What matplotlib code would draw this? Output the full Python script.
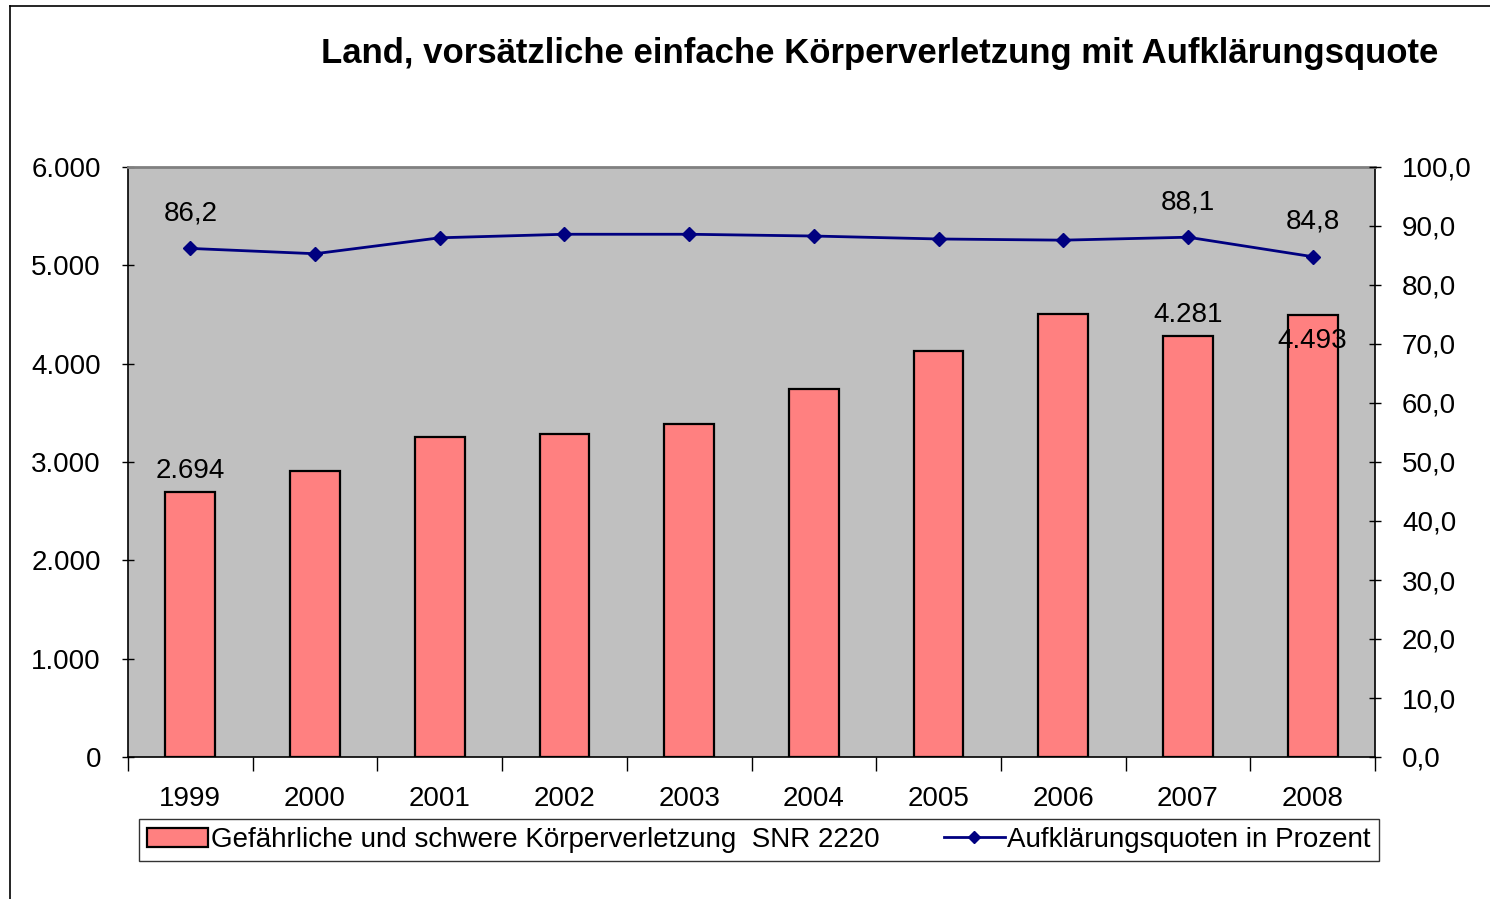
import matplotlib
matplotlib.use('Agg')
import matplotlib.pyplot as plt
import numpy as np
from matplotlib.lines import Line2D
from matplotlib.patches import Rectangle

years = ['1999', '2000', '2001', '2002', '2003', '2004', '2005', '2006', '2007', '2008']
faelle = [2694, 2910, 3254, 3285, 3387, 3742, 4129, 4505, 4281, 4493]
quote = [86.2, 85.3, 88.0, 88.6, 88.6, 88.3, 87.8, 87.6, 88.1, 84.8]

bar_label = {0: '2.694', 8: '4.281', 9: '4.493'}
quote_label = {0: '86,2', 8: '88,1', 9: '84,8'}

plt.rcParams['font.family'] = ['Liberation Sans', 'DejaVu Sans']
FS = 20

fig = plt.figure(figsize=(14.9, 8.99), dpi=100)

# outer frame (top and left edge only, like the original screenshot)
fig.add_artist(Line2D([10 / 1490, 1.0], [1 - 6 / 899] * 2, color='black', lw=1.2))
fig.add_artist(Line2D([10 / 1490] * 2, [0, 1 - 6 / 899], color='black', lw=1.2))

ax = fig.add_axes([128 / 1490, 1 - 757 / 899, 1247 / 1490, 590 / 899])
ax.set_facecolor('#c0c0c0')
x = np.arange(len(years))

ax.bar(x, faelle, width=0.4, color='#ff8080', edgecolor='black', linewidth=1.6, zorder=2)
ax.set_xlim(-0.5, len(years) - 0.5)
ax.set_ylim(0, 6000)
ax.set_yticks(np.arange(0, 6001, 1000))
ax.set_yticklabels(['0' if v == 0 else f'{v // 1000}.000' for v in range(0, 6001, 1000)])

ax.set_xticks(x)
ax.set_xticklabels(years)
ax.set_xticks(np.arange(-0.5, len(years), 1), minor=True)
ax.tick_params(axis='x', which='major', length=0, pad=21, labelsize=FS)
ax.tick_params(axis='x', which='minor', length=10, width=1, direction='out')
ax.tick_params(axis='y', length=9, width=1, direction='inout', labelsize=FS, pad=15)

ax.spines['top'].set_color('#808080')
ax.spines['top'].set_linewidth(2)
ax.spines['left'].set_linewidth(1.2)
ax.spines['right'].set_linewidth(1.2)
ax.spines['bottom'].set_linewidth(1.2)

for i, txt in bar_label.items():
    dy = -26 if i == 9 else 21
    ax.annotate(txt, (x[i], faelle[i]), xytext=(0, dy * 0.72), textcoords='offset points',
                ha='center', va='center', fontsize=FS, zorder=4)

ax2 = ax.twinx()
ax2.set_ylim(0, 100)
ax2.set_yticks(np.arange(0, 101, 10))
ax2.set_yticklabels([f'{v},0' for v in range(0, 101, 10)])
ax2.tick_params(axis='y', length=9, width=1, direction='inout', labelsize=FS, pad=15)
ax2.plot(x, quote, color='#000080', lw=2, marker='D', markersize=7, zorder=3)
for s in ax2.spines.values():
    s.set_visible(False)

for i, txt in quote_label.items():
    ax2.annotate(txt, (x[i], quote[i]), xytext=(0, 35 * 0.72), textcoords='offset points',
                 ha='center', va='center', fontsize=FS)

fig.text(880 / 1490, 1 - 54 / 899, 'Land, vorsätzliche einfache Körperverletzung mit Aufklärungsquote',
         ha='center', va='center', fontsize=25, fontweight='bold')

# legend
handles = [Rectangle((0, 0), 1, 1, facecolor='#ff8080', edgecolor='black', lw=1.6),
           Line2D([], [], color='#000080', lw=2, marker='D', markersize=6)]
labels = ['Gefährliche und schwere Körperverletzung  SNR 2220', 'Aufklärungsquoten in Prozent']
leg = fig.legend(handles, labels, loc='center', bbox_to_anchor=(759 / 1490, 1 - 840 / 899),
                 ncol=2, frameon=True, fancybox=False, edgecolor='black', fontsize=FS,
                 handlelength=2.2, handletextpad=0.1, columnspacing=2.3, borderpad=0.3,
                 borderaxespad=0)
leg.get_frame().set_linewidth(1.0)

fig.savefig('out.png', dpi=100)
